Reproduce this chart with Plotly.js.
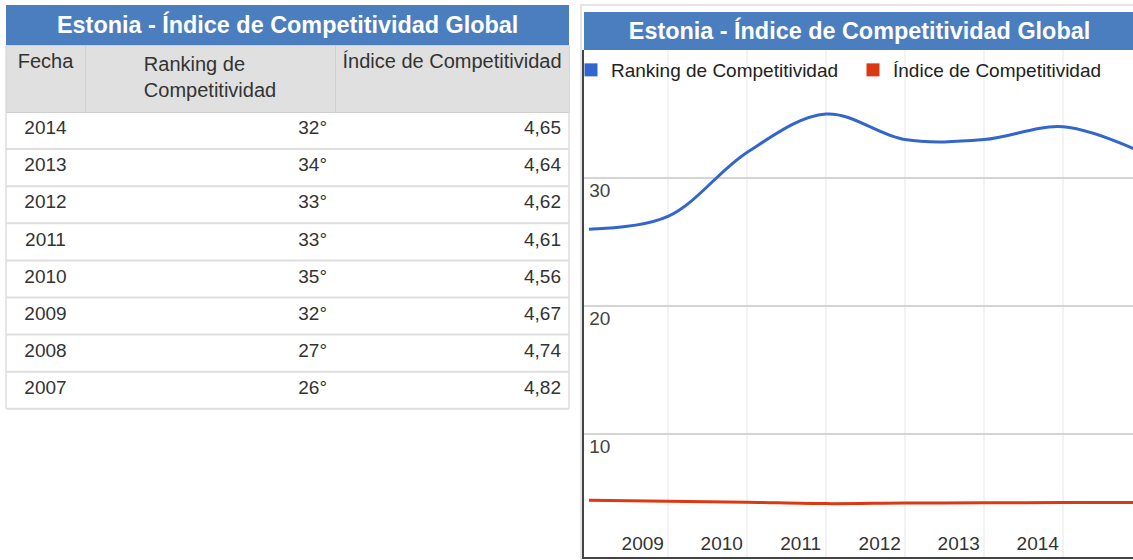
<!DOCTYPE html>
<html><head><meta charset="utf-8">
<script src="https://cdn.plot.ly/plotly-3.0.1.min.js"></script>
<style>html,body{margin:0;padding:0;background:#fff;overflow:hidden;} #chart{width:1133px;height:560px;}</style>
</head><body><div id="chart"></div>
<script>
// ---- data ----
const years = [2007, 2008, 2009, 2010, 2011, 2012, 2013, 2014];
const ranking = [26, 27, 32, 35, 33, 33, 34, 32];
const indice = [4.82, 4.74, 4.67, 4.56, 4.61, 4.62, 4.64, 4.65];
const xTickYears = [2009, 2010, 2011, 2012, 2013, 2014];
const yTicks = [10, 20, 30];
const seriesNames = ['Ranking de Competitividad', 'Índice de Competitividad'];
const headerLabels = ['Fecha', 'Ranking de<br>Competitividad', 'Índice\u00a0de\u00a0Competitividad'];
const titleText = 'Estonia - Índice de Competitividad Global';

// ---- styling ----
const W = 1133, H = 560;
const px = x => x / W, py = y => 1 - y / H;
const FONT = 'Liberation Sans, Arial, sans-serif';
const BAR = '#4b7ebe';
const C1 = '#3366cc', C2 = '#dc3912';
const X0 = 2006.937, X1 = 2013.886, LABEL_SHIFT = 1.32;
const TB = {left: 6, right: 569, top: 45, headH: 67, rowH: 37.1};

const order = years.map((_, i) => i).reverse();
const tableCols = [
  order.map(i => String(years[i])),
  order.map(i => ranking[i] + '°'),
  order.map(i => indice[i].toFixed(2).replace('.', ','))
];

const traces = [
  {
    type: 'table',
    domain: {x: [px(TB.left), px(TB.right)], y: [py(440), py(TB.top)]},
    columnwidth: [79, 250, 234],
    header: {values: headerLabels, align: 'center', height: TB.headH,
      fill: {color: '#e0e0e0'}, line: {color: '#cfcfcf', width: 1},
      font: {family: FONT, size: 20, color: '#333'}},
    cells: {values: tableCols, align: ['center', 'right', 'right'], height: TB.rowH,
      fill: {color: '#ffffff'}, line: {color: '#ffffff', width: 1},
      font: {family: FONT, size: 19, color: '#333'}}
  },
  {type: 'scatter', mode: 'lines', x: years, y: ranking, name: seriesNames[0],
   line: {color: C1, width: 3, shape: 'spline'}, showlegend: false, hoverinfo: 'skip'},
  {type: 'scatter', mode: 'lines', x: years, y: indice, name: seriesNames[1],
   line: {color: C2, width: 3, shape: 'spline'}, showlegend: false, hoverinfo: 'skip'},
  {type: 'scatter', mode: 'markers', x: [null], y: [null], xaxis: 'x2', name: seriesNames[0],
   marker: {symbol: 'square', size: 13, color: C1}},
  {type: 'scatter', mode: 'markers', x: [null], y: [null], xaxis: 'x2', name: seriesNames[1],
   marker: {symbol: 'square', size: 13, color: C2}}
];

const shapes = [
  {type: 'rect', xref: 'paper', yref: 'paper', x0: px(TB.left), x1: px(TB.right), y0: py(45), y1: py(5),
   fillcolor: BAR, line: {width: 0}, layer: 'above'},
  {type: 'rect', xref: 'paper', yref: 'paper', x0: px(581), x1: px(1145), y0: py(570), y1: py(5),
   fillcolor: 'rgba(0,0,0,0)', line: {color: '#dddddd', width: 1.5}, layer: 'below'},
  {type: 'rect', xref: 'paper', yref: 'paper', x0: px(584), x1: px(1145), y0: py(50), y1: py(12),
   fillcolor: BAR, line: {width: 0}, layer: 'above'}
];
const bodyTop = TB.top + TB.headH, bodyBottom = bodyTop + years.length * TB.rowH;
years.forEach((_, i) => {
  const y = bodyTop + (i + 1) * TB.rowH;
  shapes.push({type: 'line', xref: 'paper', yref: 'paper', x0: px(TB.left), x1: px(TB.right),
    y0: py(y), y1: py(y), line: {color: '#dedede', width: 2}, layer: 'above'});
});
[TB.left, TB.right].forEach(x => shapes.push({type: 'line', xref: 'paper', yref: 'paper',
  x0: px(x), x1: px(x), y0: py(TB.top), y1: py(bodyBottom), line: {color: '#dedede', width: 1.5}, layer: 'above'}));

const layout = {
  width: W, height: H,
  margin: {l: 0, r: 0, t: 0, b: 0, pad: 0, autoexpand: false},
  paper_bgcolor: '#ffffff', plot_bgcolor: '#ffffff',
  font: {family: FONT, size: 19, color: '#333'},
  title: {text: titleText, xref: 'paper', yref: 'paper', x: px(859.5), y: py(31),
    xanchor: 'center', yanchor: 'middle', font: {family: FONT, size: 23.4, color: '#ffffff', weight: 'bold'}},
  annotations: [
    {text: titleText, xref: 'paper', yref: 'paper', x: px(287.5), y: py(25),
     xanchor: 'center', yanchor: 'middle', showarrow: false,
     font: {family: FONT, size: 23.4, color: '#ffffff', weight: 'bold'}}
  ],
  showlegend: true,
  legend: {orientation: 'h', x: px(571), y: py(51), xanchor: 'left', yanchor: 'top',
    font: {family: FONT, size: 19, color: '#222'}, entrywidth: 237, entrywidthmode: 'pixels',
    bgcolor: 'rgba(0,0,0,0)'},
  xaxis: {domain: [px(584), 1], range: [X0, X1], tick0: 2007, dtick: 1,
    showgrid: true, gridcolor: '#f3f3f3', gridwidth: 2, showticklabels: false, ticks: '',
    zeroline: false, showline: true, linecolor: '#444', linewidth: 2, fixedrange: true},
  xaxis2: {overlaying: 'x', anchor: 'y', side: 'bottom', range: [X0 + LABEL_SHIFT, X1 + LABEL_SHIFT],
    tickmode: 'array', tickvals: xTickYears, ticktext: xTickYears.map(String),
    ticklabelposition: 'inside', ticks: '', showgrid: false, zeroline: false, showline: false,
    tickfont: {family: FONT, size: 19, color: '#333'}, fixedrange: true},
  yaxis: {domain: [py(557), py(50)], range: [0.39, 40], tickmode: 'array', tickvals: yTicks,
    ticktext: yTicks.map(String), showgrid: true, gridcolor: '#d4d4d4', gridwidth: 2,
    zeroline: false, showline: true, linecolor: '#444', linewidth: 2, ticks: '',
    ticklabelposition: 'inside', ticklabelshift: 12, ticklabelstandoff: 6,
    tickfont: {family: FONT, size: 19, color: '#444'}, fixedrange: true},
  shapes: shapes
};

Plotly.newPlot('chart', traces, layout, {displayModeBar: false, staticPlot: true});
</script>
</body></html>
